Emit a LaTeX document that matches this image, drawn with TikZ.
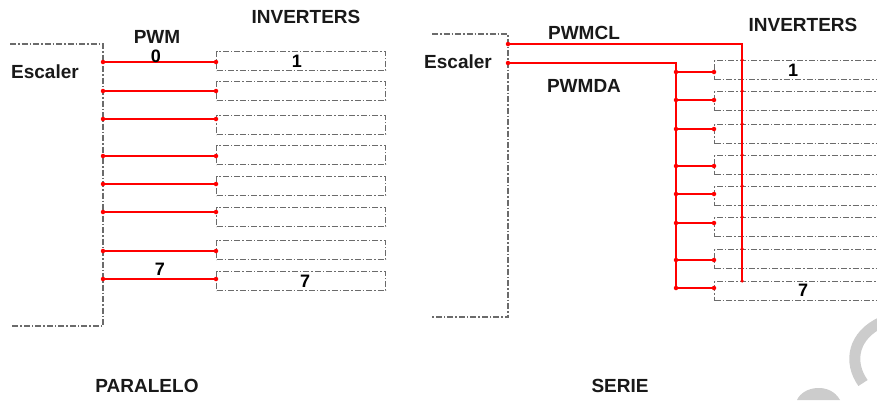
\documentclass[tikz,border=0pt]{standalone}
\usepackage{fontspec}
\setmainfont{Liberation Sans}
\begin{document}
\begin{tikzpicture}[x=1pt,y=-1pt,
  lbl/.style={font=\fontsize{19}{21}\selectfont\bfseries, text=black!90, inner sep=0pt},
  num/.style={font=\fontsize{18}{20}\selectfont\bfseries, text=black, inner sep=0pt},
  dd/.style={draw=black!58, line width=1.3pt, dash pattern=on 6pt off 2pt on 1.5pt off 2pt},
  inv/.style={dd, minimum width=169pt, minimum height=19pt, inner sep=0pt, anchor=north west},
  invr/.style={dd, minimum width=190pt, minimum height=19pt, inner sep=0pt, anchor=north west},
  sig/.style={draw=red, line width=2.2pt},
  dot/.style={circle, fill=red, inner sep=0pt, minimum size=4.5pt}
]
\useasboundingbox (0,0) rectangle (877,400);

% ---------------- PARALELO ----------------
\coordinate (le1) at (10,44);
\coordinate (le2) at (103,44);
\coordinate (le3) at (103,326);
\coordinate (le4) at (12,326);
\draw[dd] (le1) -- (le2) -- (le3) -- (le4);
\node[lbl] (lesc) at (45,72) {Escaler};
\node[lbl] (lpwm) at (157,37) {PWM};
\node[lbl] (linv) at (306,17) {INVERTERS};
\node[lbl] (lpar) at (147,386) {PARALELO};

\foreach \i/\yt in {1/51,2/81,3/115,4/145,5/176,6/207,7/240,8/271}{
  \node[inv] (LB\i) at (216,\yt) {};
}
\foreach \i/\y in {1/62,2/91,3/119,4/156,5/184,6/212,7/251,8/279}{
  \coordinate (ls\i) at (103,\y);
  \draw[sig] (ls\i) -- (ls\i -| LB\i.west);
  \node[dot] at (ls\i) {};
  \node[dot] at (ls\i -| LB\i.west) {};
}
\node[num] (l0) at (156,56) {0};
\node[num] (l7) at (160,269) {7};
\node[num] (lb1) at (297,61) {1};
\node[num] (lb7) at (305,281) {7};

% ---------------- SERIE ----------------
\coordinate (re1) at (432,34);
\coordinate (re2) at (508,34);
\coordinate (re3) at (508,317);
\coordinate (re4) at (432,317);
\draw[dd] (re1) -- (re2) -- (re3) -- (re4);
\node[lbl] (resc) at (458,62) {Escaler};
\node[lbl] (rcl) at (584,33) {PWMCL};
\node[lbl] (rda) at (584,86) {PWMDA};
\node[lbl] (rinv) at (803,25) {INVERTERS};
\node[lbl] (rser) at (620,386) {SERIE};

\foreach \i/\yt in {1/60,2/91,3/124,4/155,5/186,6/217,7/249,8/281}{
  \node[invr] (RB\i) at (714,\yt) {};
}
% PWMCL bus
\coordinate (rcl0) at (508,44);
\coordinate (rcl1) at (742,44);
\coordinate (rcl2) at (742,280);
\draw[sig] (rcl0) -- (rcl1) -- (rcl2);
\node[dot] at (rcl0) {};
\foreach \i in {1,...,8}{
  \node[circle, fill=red, inner sep=0pt, minimum size=3.5pt] at (rcl1 |- RB\i.north) {};
}
% PWMDA bus
\coordinate (rda0) at (508,63);
\coordinate (rda1) at (676,63);
\coordinate (rda2) at (676,288);
\draw[sig] (rda0) -- (rda1) -- (rda2);
\node[dot] at (rda0) {};
\foreach \i/\y in {1/72,2/100,3/129,4/166,5/194,6/223,7/260,8/288}{
  \coordinate (rb\i) at (676,\y);
  \draw[sig] (rb\i) -- (rb\i -| RB\i.west);
  \node[dot] at (rb\i) {};
  \node[dot] at (rb\i -| RB\i.west) {};
}
\node[num] (rb1n) at (793,70) {1};
\node[num] (rb7n) at (803,290) {7};

% watermark fragment
\draw[black!20, line width=11pt] (882,322) .. controls (853,335) and (848,362) .. (863,383);
\fill[black!20] (797,400) .. controls (803,386) and (830,382) .. (840,400) -- cycle;
\end{tikzpicture}
\end{document}
